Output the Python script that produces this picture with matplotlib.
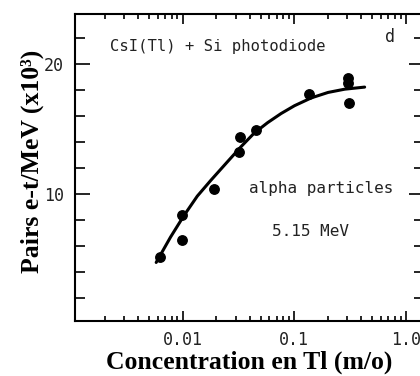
import matplotlib
matplotlib.use("Agg")
import matplotlib.pyplot as plt
from matplotlib.ticker import FixedLocator, LogLocator, NullFormatter

# measured points (concentration m/o, pairs e-t/MeV x10^3)
conc = [0.00634, 0.0098, 0.0098, 0.0192, 0.0320, 0.0327, 0.0455, 0.136, 0.306, 0.306, 0.31]
pairs = [5.15, 8.38, 6.46, 10.42, 13.23, 14.38, 14.92, 17.69, 18.92, 18.54, 17.0]

# fitted curve
fit_x = [0.0058, 0.0078, 0.01028, 0.01355, 0.01786, 0.0253, 0.0334, 0.0439,
         0.0579, 0.0764, 0.1007, 0.1423, 0.2014, 0.284, 0.428]
fit_y = [4.75, 6.7, 8.35, 9.85, 11.05, 12.5, 13.65, 14.7,
         15.5, 16.2, 16.8, 17.4, 17.82, 18.07, 18.23]

xticks = [0.01, 0.1, 1.0]
xtick_labels = ["0.01", "0.1", "1.0"]
yticks = [10, 20]

MONO = "DejaVu Sans Mono"
SERIF = "Liberation Serif"

fig = plt.figure(figsize=(4.2, 3.76), dpi=100, facecolor="white")
ax = fig.add_axes([0.1786, 0.1463, 0.83, 0.8165])
ax.set_xscale("log")
ax.set_xlim(10 ** -2.964, 10 ** 0.16)
ax.set_ylim(0.25, 23.85)

ax.plot(fit_x, fit_y, color="black", lw=2.2, solid_capstyle="round",
        solid_joinstyle="round", zorder=2)
ax.plot(conc, pairs, "o", color="black", ms=6.8, zorder=3)

ax.xaxis.set_major_locator(FixedLocator(xticks))
ax.set_xticklabels(xtick_labels, family=MONO, fontsize=12, color="#222")
ax.xaxis.set_minor_locator(LogLocator(base=10, subs=range(2, 10), numticks=20))
ax.xaxis.set_minor_formatter(NullFormatter())
ax.yaxis.set_major_locator(FixedLocator(yticks))
ax.set_yticklabels([str(v) for v in yticks], family=MONO, fontsize=12, color="#222")
ax.yaxis.set_minor_locator(FixedLocator([2, 4, 6, 8, 12, 14, 16, 18, 22]))

ax.tick_params(which="both", direction="in", top=True, right=True, width=1.2, color="black")
ax.tick_params(axis="x", which="major", length=7, pad=7)
ax.tick_params(axis="x", which="minor", length=3.5)
ax.tick_params(axis="y", which="major", length=10.5, pad=8)
ax.tick_params(axis="y", which="minor", length=7)
for s in ax.spines.values():
    s.set_linewidth(1.5)

ax.set_xlabel("Concentration en Tl (m/o)", family=SERIF, fontweight="bold",
              fontsize=18.5, labelpad=1)
ax.set_ylabel("Pairs e-t/MeV (x10³)", family=SERIF, fontweight="bold",
              fontsize=18.5, labelpad=0, y=0.52)

ax.text(0.10, 0.895, "CsI(Tl) + Si photodiode", transform=ax.transAxes,
        family=MONO, fontsize=11.2, va="center", ha="left", color="#222")
ax.text(0.903, 0.925, "d", transform=ax.transAxes, family=MONO, fontsize=12,
        va="center", ha="center", color="#222")
ax.text(0.705, 0.43, "alpha particles", transform=ax.transAxes, family=MONO,
        fontsize=11.5, va="center", ha="center", color="#222")
ax.text(0.675, 0.29, "5.15 MeV", transform=ax.transAxes, family=MONO,
        fontsize=11.5, va="center", ha="center", color="#222")

fig.savefig("out.png", dpi=100, facecolor="white")
